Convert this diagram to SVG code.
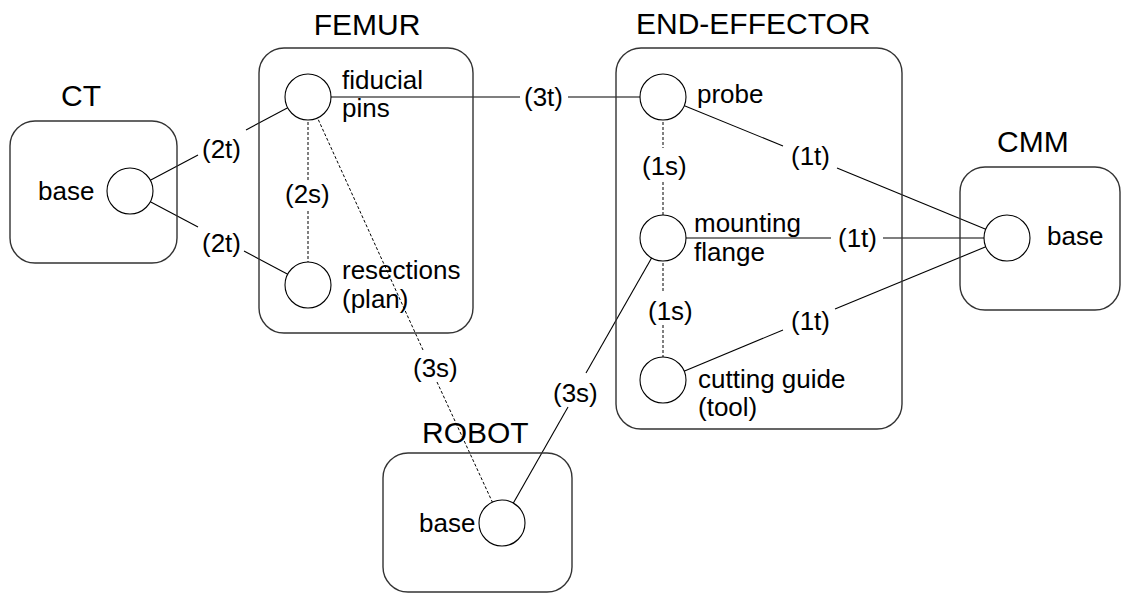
<svg xmlns="http://www.w3.org/2000/svg" width="1122" height="593" viewBox="0 0 1122 593">
  <style>
    text { font-family: "Liberation Sans", Arial, sans-serif; fill: #000; }
    .title { font-size: 30px; }
    .lbl { font-size: 26px; }
    .frame { fill: none; stroke: #333; stroke-width: 1.4; }
    .pt { fill: #fff; stroke: #000; stroke-width: 1.1; }
    .t { stroke: #000; stroke-width: 1.1; fill: none; }
    .s { stroke: #000; stroke-width: 1; stroke-dasharray: 3 2; fill: none; }
  </style>
  <rect width="1122" height="593" fill="#fff"/>

  <!-- connectors, split where an edge label sits on the line -->
  <g id="connectors">
    <line class="t" x1="130" y1="191" x2="198" y2="155"/>
    <line class="t" x1="246" y1="130" x2="308" y2="97"/>
    <line class="t" x1="130" y1="191" x2="198" y2="227"/>
    <line class="t" x1="244" y1="251" x2="308" y2="285"/>
    <line class="t" x1="308" y1="97" x2="520" y2="97"/>
    <line class="t" x1="568" y1="97" x2="663" y2="97"/>
    <line class="s" x1="308" y1="97" x2="308" y2="182"/>
    <line class="s" x1="308" y1="211" x2="308" y2="285"/>
    <line class="s" x1="308" y1="97" x2="423" y2="350"/>
    <line class="s" x1="437" y1="382" x2="502" y2="523"/>
    <line class="s" x1="663" y1="97" x2="663" y2="148"/>
    <line class="s" x1="663" y1="182" x2="663" y2="238"/>
    <line class="s" x1="663" y1="238" x2="663" y2="293"/>
    <line class="s" x1="663" y1="325" x2="663" y2="380"/>
    <line class="t" x1="663" y1="238" x2="586" y2="373"/>
    <line class="t" x1="568" y1="407" x2="502" y2="523"/>
    <line class="t" x1="663" y1="97" x2="783" y2="146"/>
    <line class="t" x1="837" y1="168" x2="1007" y2="238"/>
    <line class="t" x1="663" y1="238" x2="831" y2="238"/>
    <line class="t" x1="883" y1="238" x2="1007" y2="238"/>
    <line class="t" x1="663" y1="380" x2="783" y2="330"/>
    <line class="t" x1="835" y1="309" x2="1007" y2="238"/>
    <g class="lbl">
      <text x="202" y="158">(2t)</text>
      <text x="202" y="252">(2t)</text>
      <text x="524" y="106">(3t)</text>
      <text x="285" y="203">(2s)</text>
      <text x="642" y="175">(1s)</text>
      <text x="648" y="320">(1s)</text>
      <text x="791" y="165">(1t)</text>
      <text x="838" y="247">(1t)</text>
      <text x="791" y="330">(1t)</text>
      <text x="413" y="377">(3s)</text>
      <text x="553" y="402">(3s)</text>
    </g>
  </g>

  <g id="ct">
    <rect class="frame" x="10" y="121" width="167" height="142" rx="25"/>
    <text class="title" x="81" y="106" text-anchor="middle">CT</text>
    <circle class="pt" cx="130" cy="191" r="23"/>
    <text class="lbl" x="38" y="200">base</text>
  </g>

  <g id="femur">
    <rect class="frame" x="259" y="48" width="214" height="285" rx="25"/>
    <text class="title" x="367" y="35" text-anchor="middle">FEMUR</text>
    <g id="fiducial-pins">
      <circle class="pt" cx="308" cy="97" r="23"/>
      <text class="lbl" x="342" y="89">fiducial</text>
      <text class="lbl" x="342" y="117">pins</text>
    </g>
    <g id="resections">
      <circle class="pt" cx="308" cy="285" r="23"/>
      <text class="lbl" x="342" y="279">resections</text>
      <text class="lbl" x="342" y="308">(plan)</text>
    </g>
  </g>

  <g id="end-effector">
    <rect class="frame" x="616" y="48" width="286" height="381" rx="25"/>
    <text class="title" x="636" y="34">END-EFFECTOR</text>
    <g id="probe">
      <circle class="pt" cx="663" cy="97" r="23"/>
      <text class="lbl" x="697" y="103">probe</text>
    </g>
    <g id="mounting-flange">
      <circle class="pt" cx="663" cy="238" r="23"/>
      <text class="lbl" x="694" y="232">mounting</text>
      <text class="lbl" x="694" y="261">flange</text>
    </g>
    <g id="cutting-guide">
      <circle class="pt" cx="663" cy="380" r="23"/>
      <text class="lbl" x="698" y="388">cutting guide</text>
      <text class="lbl" x="698" y="416">(tool)</text>
    </g>
  </g>

  <g id="cmm">
    <rect class="frame" x="960" y="167" width="160" height="143" rx="25"/>
    <text class="title" x="997" y="152">CMM</text>
    <circle class="pt" cx="1007" cy="238" r="23"/>
    <text class="lbl" x="1047" y="245">base</text>
  </g>

  <g id="robot">
    <rect class="frame" x="383" y="453" width="189" height="139" rx="25"/>
    <text class="title" x="422" y="443">ROBOT</text>
    <circle class="pt" cx="502" cy="523" r="23"/>
    <text class="lbl" x="419" y="532">base</text>
  </g>
</svg>
